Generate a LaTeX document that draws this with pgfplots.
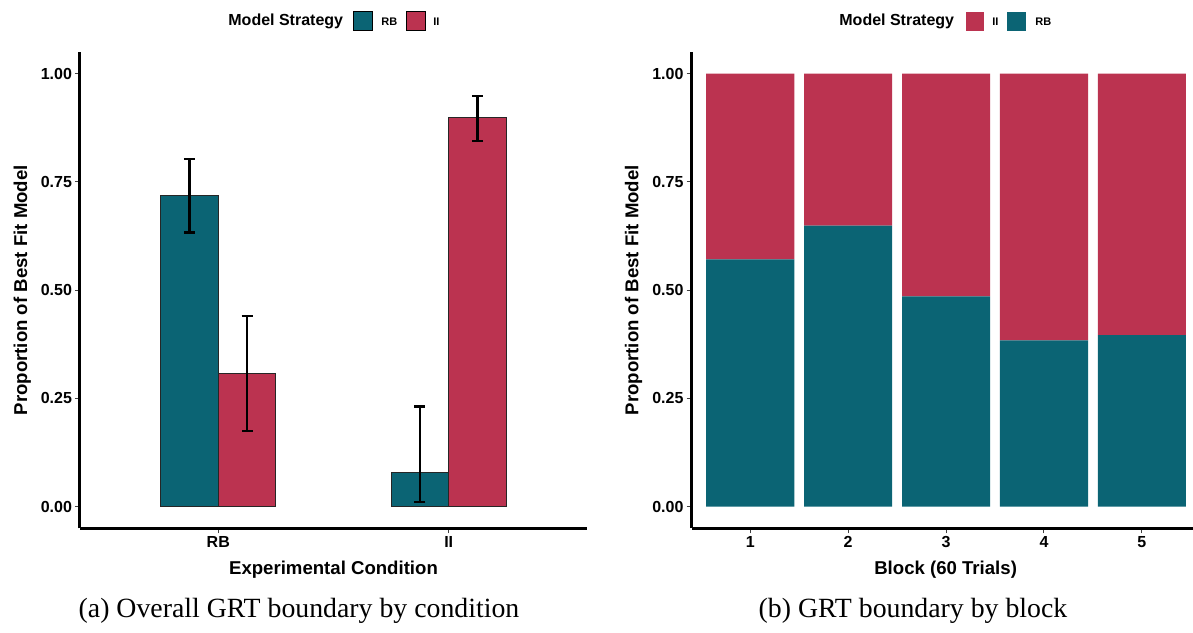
\documentclass[border=0pt]{standalone}
\usepackage{fontspec}
\setmainfont{Liberation Serif}
\setsansfont{Liberation Sans}
\usepackage{pgfplots}
\pgfplotsset{compat=1.18}
\definecolor{rbteal}{HTML}{0B6474}
\definecolor{iired}{HTML}{BB3350}
\pgfplotsset{
  ggaxis/.style={
    scale only axis,
    axis lines=left,
    axis line style={-, line width=1.5pt, black},
    ymin=-0.05, ymax=1.05,
    ytick={0,0.25,0.5,0.75,1},
    yticklabels={0.00,0.25,0.50,0.75,1.00},
    tick align=outside,
    major tick length=2.5pt,
    tick style={black!75, line width=0.5pt},
    tick label style={font=\sffamily\bfseries\fontsize{8}{9.6}\selectfont},
    yticklabel style={xshift=2pt},
    xticklabel style={yshift=2pt},
    clip=false,
  },
  errstyle/.style={
    error bars/.cd, y dir=both, y explicit,
    error bar style={line width=1.2pt, black},
    error mark options={rotate=90, mark size=2.75pt, line width=1.2pt, black},
  },
}
\newcommand{\labfont}{\sffamily\bfseries\fontsize{9.3}{11}\selectfont}
\begin{document}
\begin{tikzpicture}[x=0.5pt,y=-0.5pt]
\useasboundingbox (0,0) rectangle (1193,632);
% ---------- left panel ----------
\begin{axis}[ggaxis,
  at={(40pt,-264.175pt)}, anchor=south west,
  width=253.5pt, height=238.15pt,
  xmin=0.4, xmax=2.6,
  xtick={1,2}, xticklabels={RB,II},
  xlabel={Experimental Condition},
  ylabel={Proportion of Best Fit Model},
  every axis x label/.style={at={(axis description cs:0.5,-0.087)}, anchor=center, font=\labfont},
  every axis y label/.style={at={(axis description cs:-0.114,0.5)}, rotate=90, anchor=center, font=\labfont},
]
\addplot[ybar, bar width=0.25, bar shift=0pt, fill=rbteal, draw=black!85, line width=0.5pt, errstyle]
  coordinates {(0.875,0.718) += (0,0.085) -= (0,0.085)
               (1.875,0.078) += (0,0.153) -= (0,0.067)};
\addplot[ybar, bar width=0.25, bar shift=0pt, fill=iired, draw=black!85, line width=0.5pt, errstyle]
  coordinates {(1.125,0.308) += (0,0.133) -= (0,0.133)
               (2.125,0.898) += (0,0.050) -= (0,0.053)};
\end{axis}
% ---------- right panel ----------
\begin{axis}[ggaxis,
  at={(345.75pt,-264.175pt)}, anchor=south west,
  width=250.75pt, height=238.15pt,
  xmin=0.4, xmax=5.522,
  xtick={1,2,3,4,5}, xticklabels={1,2,3,4,5},
  xlabel={Block (60 Trials)},
  ylabel={Proportion of Best Fit Model},
  every axis x label/.style={at={(axis description cs:0.5067,-0.087)}, anchor=center, font=\labfont},
  every axis y label/.style={at={(axis description cs:-0.1156,0.5)}, rotate=90, anchor=center, font=\labfont},
  ybar stacked, bar width=0.9,
]
\addplot[fill=rbteal, draw=none] coordinates {(1,0.571) (2,0.649) (3,0.486) (4,0.384) (5,0.396)};
\addplot[fill=iired, draw=none] coordinates {(1,0.429) (2,0.351) (3,0.514) (4,0.616) (5,0.604)};
\end{axis}
% ---------- legends ----------
\begin{scope}[every node/.style={inner sep=0pt, font=\sffamily\bfseries}]
\node[anchor=west, font=\sffamily\bfseries\fontsize{8}{9.6}\selectfont] at (228,21.5) {Model Strategy};
\filldraw[fill=rbteal, draw=black, line width=0.5pt] (353,11.5) rectangle (372,30.5);
\node[anchor=west, font=\sffamily\bfseries\fontsize{5.5}{6.6}\selectfont] at (381,21.5) {RB};
\filldraw[fill=iired, draw=black, line width=0.5pt] (406,11.5) rectangle (425,30.5);
\node[anchor=west, font=\sffamily\bfseries\fontsize{5.5}{6.6}\selectfont] at (433,21.5) {II};
\node[anchor=west, font=\sffamily\bfseries\fontsize{8}{9.6}\selectfont] at (839,21.5) {Model Strategy};
\fill[iired] (965.5,11.5) rectangle (983.5,30.5);
\node[anchor=west, font=\sffamily\bfseries\fontsize{5.5}{6.6}\selectfont] at (992,21.5) {II};
\fill[rbteal] (1007,11.5) rectangle (1026,30.5);
\node[anchor=west, font=\sffamily\bfseries\fontsize{5.5}{6.6}\selectfont] at (1035,21.5) {RB};
\end{scope}
% ---------- captions ----------
\node[anchor=base, inner sep=0pt, font=\fontsize{13.9}{16}\selectfont] at (299,617) {(a) Overall GRT boundary by condition};
\node[anchor=base, inner sep=0pt, font=\fontsize{13.9}{16}\selectfont] at (913,617) {(b) GRT boundary by block};
\end{tikzpicture}
\end{document}
